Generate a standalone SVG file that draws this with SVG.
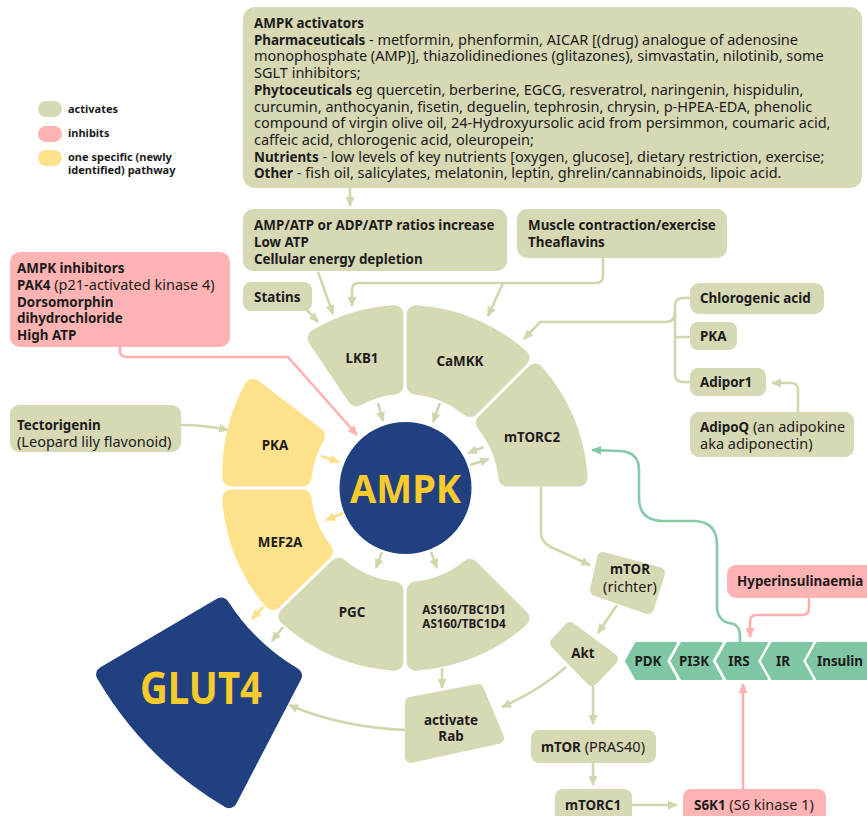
<svg xmlns="http://www.w3.org/2000/svg" width="867" height="816" viewBox="0 0 867 816">
<style>
text{font-family:"Noto Sans","Liberation Sans",sans-serif;fill:#1c1c1c;font-size:14.5px}
.b{font-weight:bold;font-size:13.4px}
.lg{font-weight:bold;font-size:11px}
.olive{fill:#d6d9b3}
.pink{fill:#ffb3b3}
.yel{fill:#fde28b}
.seg-o{fill:#d6d9b3;stroke:#d6d9b3;stroke-width:18;stroke-linejoin:round}
.seg-y{fill:#fde28b;stroke:#fde28b;stroke-width:18;stroke-linejoin:round}
.chev{fill:#7fc6a4;stroke:#7fc6a4;stroke-width:2;stroke-linejoin:round}
.rnd-o{fill:#d6d9b3;stroke:#d6d9b3;stroke-width:12;stroke-linejoin:round}
.c-o{fill:none;stroke:#d3d6ac;stroke-width:2.6;marker-end:url(#ao)}
.c-y{fill:none;stroke:#fbe08a;stroke-width:2.6;marker-end:url(#ay)}
.c-p{fill:none;stroke:#ffb0b0;stroke-width:2.6;marker-end:url(#ap)}
.c-g{fill:none;stroke:#86c9a7;stroke-width:2.6;marker-end:url(#ag)}
.big{font-weight:bold;fill:#f7cb2c}
.mid{text-anchor:middle}
</style>
<defs>
<marker id="ao" markerUnits="userSpaceOnUse" markerWidth="10" markerHeight="9" refX="9" refY="4.5" orient="auto"><path d="M0,0 L10,4.5 L0,9 Z" fill="#d3d6ac"/></marker>
<marker id="ay" markerUnits="userSpaceOnUse" markerWidth="10" markerHeight="9" refX="9" refY="4.5" orient="auto"><path d="M0,0 L10,4.5 L0,9 Z" fill="#fbe08a"/></marker>
<marker id="ap" markerUnits="userSpaceOnUse" markerWidth="10" markerHeight="9" refX="9" refY="4.5" orient="auto"><path d="M0,0 L10,4.5 L0,9 Z" fill="#ffb0b0"/></marker>
<marker id="ag" markerUnits="userSpaceOnUse" markerWidth="10" markerHeight="9" refX="9" refY="4.5" orient="auto"><path d="M0,0 L10,4.5 L0,9 Z" fill="#86c9a7"/></marker>
</defs>

<g id="legend">
<rect x="38" y="101" width="24" height="16" rx="8" class="olive"/>
<text x="68" y="113" class="lg">activates</text>
<rect x="38" y="126" width="24" height="16" rx="8" class="pink"/>
<text x="68" y="137" class="lg">inhibits</text>
<rect x="38" y="150" width="24" height="16" rx="8" class="yel"/>
<text x="68" y="161" class="lg">one specific (newly</text>
<text x="68" y="174" class="lg">identified) pathway</text>
</g>

<g id="connectors">
<path class="c-o" d="M350,188 L350,206"/>
<path class="c-o" d="M318,272 L333,314"/>
<path class="c-o" d="M306,309 L318,322"/>
<path class="c-o" d="M603,258 L603,276 Q603,283 596,283 L359,283 Q352,283 352,290 L352,306"/>
<path class="c-o" d="M503,283 L488,316"/>
<path fill="none" stroke="#d3d6ac" stroke-width="2.6" d="M690,298 L683,298 Q675,298 675,306 L675,374 Q675,382 683,382 L690,382 M675,337 L690,337"/>
<path class="c-o" d="M675,312 Q675,322 665,322 L540,322 L524,339"/>
<path class="c-o" d="M798,412 L798,390 Q798,383 791,383 L772,383"/>
<path class="c-o" d="M181,425 Q205,425 228,430"/>
<path class="c-o" d="M378,403 L383,421"/>
<path class="c-o" d="M440,403 L433,422"/>
<path class="c-o" d="M484,447 L468,453"/>
<path class="c-o" d="M470,465 L489,459"/>
<path class="c-y" d="M321,456 L339,462"/>
<path class="c-y" d="M343,513 L326,520"/>
<path class="c-o" d="M382,552 L376,568"/>
<path class="c-o" d="M431,552 L437,568"/>
<path class="c-o" d="M541,487 L541,533 Q541,542 551,547 L590,565"/>
<path class="c-o" d="M617,605 L598,633"/>
<path class="c-o" d="M566,667 Q540,690 502,707"/>
<path class="c-o" d="M593,686 L593,724"/>
<path class="c-o" d="M593,763 L593,785"/>
<path class="c-o" d="M632,805 L677,805"/>
<path class="c-o" d="M442,668 L442,688"/>
<path class="c-o" d="M405,730 Q340,727 289,705"/>
<path class="c-o" d="M283,627 L272,641"/>
<path class="c-y" d="M263,607 L252,619"/>
<path class="c-p" d="M120,347 L120,351 Q120,357 127,357 L288,357 L357,435"/>
<path class="c-p" d="M809,598 L809,608 Q809,615 802,615 L757,615 Q750,615 750,622 L750,637"/>
<path class="c-p" d="M743,789 L743,684"/>
<path class="c-g" d="M740,644 L740,636 Q740,624 729,623 Q717,620 717,606 L717,545 Q717,522 695,521 L662,521 Q639,520 639,498 L639,470 Q639,452 620,451 L592,450"/>
</g>

<g id="activators">
<rect x="243" y="7" width="619" height="181" rx="12" class="olive"/>
<text x="254" y="28" class="b">AMPK activators</text>
<text x="254" y="44.7"><tspan class="b">Pharmaceuticals</tspan> - metformin, phenformin, AICAR [(drug) analogue of adenosine</text>
<text x="254" y="61.4">monophosphate (AMP)], thiazolidinediones (glitazones), simvastatin, nilotinib, some</text>
<text x="254" y="78.1">SGLT inhibitors;</text>
<text x="254" y="94.8"><tspan class="b">Phytoceuticals</tspan> eg quercetin, berberine, EGCG, resveratrol, naringenin, hispidulin,</text>
<text x="254" y="111.5">curcumin, anthocyanin, fisetin, deguelin, tephrosin, chrysin, p-HPEA-EDA, phenolic</text>
<text x="254" y="128.2">compound of virgin olive oil, 24-Hydroxyursolic acid from persimmon, coumaric acid,</text>
<text x="254" y="144.9">caffeic acid, chlorogenic acid, oleuropein;</text>
<text x="254" y="161.6"><tspan class="b">Nutrients</tspan> - low levels of key nutrients [oxygen, glucose], dietary restriction, exercise;</text>
<text x="254" y="178.3"><tspan class="b">Other</tspan> - fish oil, salicylates, melatonin, leptin, ghrelin/cannabinoids, lipoic acid.</text>
</g>

<g id="energy">
<rect x="243" y="209" width="264" height="62" rx="10" class="olive"/>
<text x="254" y="230" class="b">AMP/ATP or ADP/ATP ratios increase</text>
<text x="254" y="247" class="b">Low ATP</text>
<text x="254" y="264" class="b">Cellular energy depletion</text>
</g>
<g id="muscle">
<rect x="517" y="209" width="210" height="49" rx="10" class="olive"/>
<text x="528" y="230" class="b">Muscle contraction/exercise</text>
<text x="528" y="247" class="b">Theaflavins</text>
</g>
<g id="statins">
<rect x="243" y="282" width="69" height="29" rx="8" class="olive"/>
<text x="254" y="302" class="b">Statins</text>
</g>
<g id="inhibitors">
<rect x="10" y="252" width="220" height="95" rx="10" class="pink"/>
<text x="17" y="273" class="b">AMPK inhibitors</text>
<text x="17" y="290"><tspan class="b">PAK4</tspan> (p21-activated kinase 4)</text>
<text x="17" y="307" class="b">Dorsomorphin</text>
<text x="17" y="323" class="b">dihydrochloride</text>
<text x="17" y="340" class="b">High ATP</text>
</g>
<g id="tectorigenin">
<rect x="10" y="405" width="171" height="47" rx="9" class="olive"/>
<text x="17" y="430" class="b">Tectorigenin</text>
<text x="17" y="447">(Leopard lily flavonoid)</text>
</g>
<g id="chlorogenic">
<rect x="690" y="283" width="134" height="31" rx="9" class="olive"/>
<text x="700" y="303" class="b">Chlorogenic acid</text>
</g>
<g id="pka-right">
<rect x="690" y="322" width="47" height="28" rx="8" class="olive"/>
<text x="700" y="341" class="b">PKA</text>
</g>
<g id="adipor1">
<rect x="690" y="368" width="76" height="28" rx="8" class="olive"/>
<text x="700" y="387" class="b">Adipor1</text>
</g>
<g id="adipoq">
<rect x="690" y="412" width="164" height="45" rx="9" class="olive"/>
<text x="700" y="432"><tspan class="b">AdipoQ</tspan> (an adipokine</text>
<text x="700" y="449">aka adiponectin)</text>
</g>

<g id="lkb1">
<path class="seg-o" d="M316.58,338.15 A174,174 0 0 1 394.5,314.32 L394.5,385.54 A103,103 0 0 0 356.40,397.19 Z"/>
<text x="362" y="363" class="b mid">LKB1</text>
</g>
<g id="camkk">
<path class="seg-o" d="M415.5,314.32 A174,174 0 0 1 520.39,357.77 L470.03,408.13 A103,103 0 0 0 415.5,385.54 Z"/>
<text x="460" y="366" class="b mid">CaMKK</text>
</g>
<g id="mtorc2">
<path class="seg-o" d="M535.23,372.61 A174,174 0 0 1 578.68,477.5 L507.46,477.5 A103,103 0 0 0 484.87,422.97 Z"/>
<text x="532" y="442" class="b mid">mTORC2</text>
</g>
<g id="as160">
<path class="seg-o" d="M520.39,618.23 A174,174 0 0 1 415.5,661.68 L415.5,590.46 A103,103 0 0 0 470.03,567.87 Z"/>
<text x="464" y="614" class="b mid" style="font-size:11.7px">AS160/TBC1D1</text>
<text x="464" y="628" class="b mid" style="font-size:11.7px">AS160/TBC1D4</text>
</g>
<g id="pgc">
<path class="seg-o" d="M394.5,661.68 A174,174 0 0 1 287.36,616.21 L338.59,566.73 A103,103 0 0 0 394.5,590.46 Z"/>
<text x="352" y="617" class="b mid">PGC</text>
</g>
<g id="mef2a">
<path class="seg-y" d="M272.78,601.11 A174,174 0 0 1 231.32,498.5 L302.54,498.5 A103,103 0 0 0 324.01,551.63 Z"/>
<text x="280" y="547" class="b mid">MEF2A</text>
</g>
<g id="pka">
<path class="seg-y" d="M231.32,477.5 A180,180 0 0 1 253,388 L315.94,436.26 A103,103 0 0 0 302.54,477.5 Z"/>
<text x="275" y="450" class="b mid">PKA</text>
</g>

<g id="ampk">
<circle cx="405.5" cy="488" r="66" fill="#21407f"/>
<text x="405.5" y="503" class="big mid" style="font-size:40px" textLength="111" lengthAdjust="spacingAndGlyphs">AMPK</text>
</g>
<g id="glut4">
<path d="M229.08,800.20 A354,354 0 0 1 104.13,674.50 L221.36,605.45 A218,218 0 0 0 294.01,675.63 Z" fill="#21407f" stroke="#21407f" stroke-width="16" stroke-linejoin="round"/>
<text x="201" y="704" class="big mid" style="font-size:44px" textLength="122" lengthAdjust="spacingAndGlyphs">GLUT4</text>
</g>

<g id="mtor-richter">
<path class="rnd-o" d="M603,558 L659,573 L648,608 L596,590 Z"/>
<text x="630" y="574" class="b mid">mTOR</text>
<text x="630" y="592" class="mid">(richter)</text>
</g>
<g id="akt">
<path class="rnd-o" d="M556,643 L570,628 L612,659 L592,680 Z"/>
<text x="583" y="658" class="b mid">Akt</text>
</g>
<g id="rab">
<path class="rnd-o" d="M411,703 L478,690 L498,738 L411,757 Z"/>
<text x="451" y="725" class="b mid">activate</text>
<text x="451" y="741" class="b mid">Rab</text>
</g>
<g id="mtor-pras40">
<rect x="531" y="730" width="125" height="33" rx="8" class="olive"/>
<text x="593" y="752" class="mid"><tspan class="b">mTOR</tspan> (PRAS40)</text>
</g>
<g id="mtorc1">
<rect x="555" y="789" width="77" height="40" rx="8" class="olive"/>
<text x="593" y="810" class="b mid">mTORC1</text>
</g>
<g id="s6k1">
<rect x="683" y="789" width="143" height="40" rx="8" class="pink"/>
<text x="694" y="810"><tspan class="b">S6K1</tspan> (S6 kinase 1)</text>
</g>
<g id="hyperinsulinaemia">
<rect x="727" y="565" width="150" height="33" rx="9" class="pink"/>
<text x="737" y="586" class="b">Hyperinsulinaemia</text>
</g>

<g id="pdk">
<path class="chev" d="M626,661 L636,643 L676,643 L666,661 L676,679 L636,679 Z"/>
<text x="648" y="666" class="b mid">PDK</text>
</g>
<g id="pi3k">
<path class="chev" d="M671.5,661 L681.5,643 L721.5,643 L711.5,661 L721.5,679 L681.5,679 Z"/>
<text x="694" y="666" class="b mid">PI3K</text>
</g>
<g id="irs">
<path class="chev" d="M717,661 L727,643 L767,643 L757,661 L767,679 L727,679 Z"/>
<text x="739" y="666" class="b mid">IRS</text>
</g>
<g id="ir">
<path class="chev" d="M762,661 L772,643 L812,643 L802,661 L812,679 L772,679 Z"/>
<text x="783" y="666" class="b mid">IR</text>
</g>
<g id="insulin">
<path class="chev" d="M807,661 L817,643 L880,643 L880,679 L817,679 Z"/>
<text x="840" y="666" class="b mid">Insulin</text>
</g>
</svg>
